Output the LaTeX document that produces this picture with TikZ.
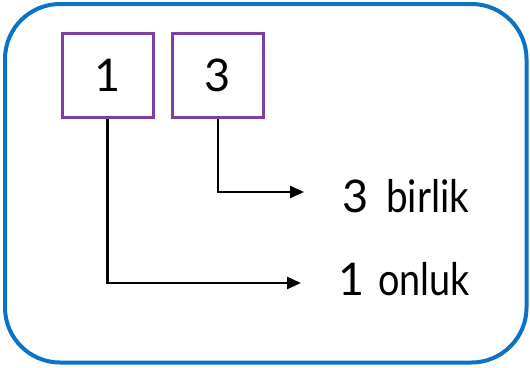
\documentclass[tikz,border=0pt]{standalone}
\usepackage{fontspec}
\setmainfont{Lato}
\usetikzlibrary{arrows.meta}
\definecolor{frameblue}{HTML}{0B72C4}
\definecolor{boxpurple}{HTML}{7B3FA6}
\tikzset{
  digitbox/.style={draw=boxpurple, line width=3pt, minimum width=91pt, minimum height=84pt, inner sep=0pt, font=\fontsize{45}{45}\selectfont},
  lbl/.style={anchor=base west, inner sep=0pt, font=\fontsize{45}{45}\selectfont},
  conn/.style={line width=2.5pt, -{Triangle[length=14pt,width=12pt]}}
}
\begin{document}
\begin{tikzpicture}[x=1pt,y=-1pt]
\useasboundingbox (0,0) rectangle (530,367);
\draw[frameblue, line width=4pt, rounded corners=55pt] (5,4) rectangle (526.5,362.5);
\node[digitbox] (b1) at (107.5,75) {1};
\node[digitbox] (b2) at (218,75) {3};
\node[lbl] (t2) at (342,212) {3\hspace{18pt}\scalebox{0.86}[1]{birlik}};
\node[lbl] (t1) at (338,295) {1\hspace{14pt}\scalebox{0.84}[1]{onluk}};
\coordinate (e2) at (304,192);
\coordinate (e1) at (301,283);
\draw[conn] (b2.south) |- (e2);
\draw[conn] (b1.south) |- (e1);
\end{tikzpicture}
\end{document}
